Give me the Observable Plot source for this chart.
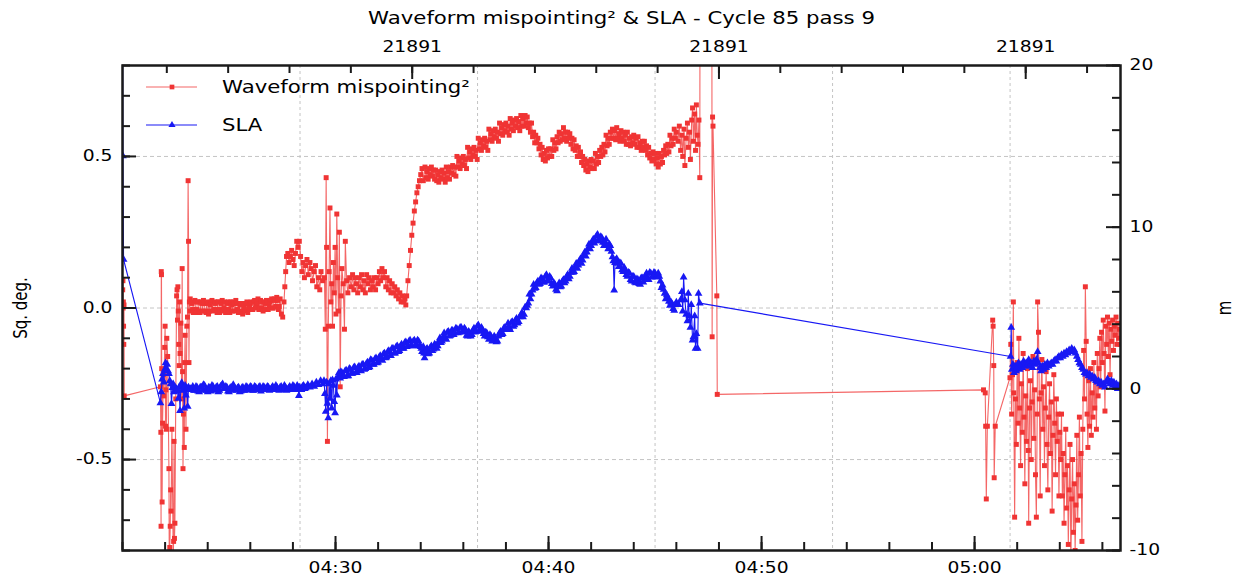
<!DOCTYPE html>
<html><head><meta charset="utf-8">
<script src="https://cdn.jsdelivr.net/npm/d3@7"></script>
<script src="https://cdn.jsdelivr.net/npm/@observablehq/plot@0.6"></script>
<style>body{margin:0;background:#fff;}</style>
</head><body><div id="chart"></div>
<script>
// ---------- texts ----------
const title = "Waveform mispointing\u00B2 & SLA - Cycle 85 pass 9";
const seriesNames = ["Waveform mispointing\u00B2", "SLA"];
const leftLabel = "Sq. deg.";
const rightLabel = "m";
// ---------- axes ----------
const passStart = "2009-12-08T04:20:00Z";   // x domain start
const passLengthMin = 46.85;                 // x domain length, minutes
const bottomTickLabels = ["04:30", "04:40", "04:50", "05:00"];
const topTickDays = [21891.19, 21891.20, 21891.21]; // days since 1950-01-01
const leftTicks = [-0.5, 0, 0.5];
const rightTicks = [-10, 0, 10, 20];
const leftDomain = [-0.8, 0.8];
const rightDomain = [-10, 20];
// ---------- data: [minutes after 04:20:00, value] ----------
const mispointing = [
[0.01,0.06],[0.02,0.09],[0.03,0.00],[0.04,0.02],[0.05,-0.06],[0.06,-0.12],[0.07,0.01],[0.08,-0.29],
[1.78,-0.26],[1.80,-0.41],[1.81,-0.72],[1.82,0.12],[1.83,0.11],[1.84,-0.20],[1.86,-0.64],[1.88,-0.38],[1.92,-0.22],[1.94,-0.29],[1.98,-0.13],[2.00,-0.06],[2.02,-0.39],[2.04,-0.27],[2.06,-0.40],[2.08,-0.10],[2.12,-0.16],[2.18,-0.53],[2.20,-0.95],[2.22,-0.79],[2.24,-0.72],[2.26,-0.60],[2.28,-0.67],[2.32,-0.40],[2.38,-0.82],[2.40,-0.77],[2.42,-0.44],[2.44,-0.76],[2.46,-0.71],[2.50,-0.30],[2.54,0.04],[2.56,0.06],[2.58,-0.04],[2.60,0.07],[2.62,-0.01],[2.64,-0.12],[2.66,-0.19],[2.68,0.02],[2.70,-0.15],[2.74,-0.05],[2.78,-0.30],[2.80,0.13],[2.82,-0.21],[2.84,-0.53],[2.86,-0.35],[2.88,-0.27],[2.90,-0.46],[2.92,-0.18],[2.94,-0.09],[2.98,-0.40],[3.02,-0.06],[3.05,-0.03],[3.08,0.42],[3.10,0.22],[3.12,-0.18],[3.14,0.02],[3.16,-0.01],[3.18,0.03],
[3.25,0.015],[3.32,-0.015],[3.40,0.025],[3.48,-0.005],[3.56,0.02],[3.64,-0.015],[3.72,0.015],[3.80,0.025],[3.88,-0.01],[3.96,0.015],[4.04,-0.02],[4.12,0.01],[4.20,0.025],[4.28,-0.005],[4.36,0.015],[4.44,-0.015],[4.52,0.02],[4.60,-0.005],[4.68,0.025],[4.76,0.0],[4.84,-0.015],[4.92,0.015],[5.00,-0.005],[5.08,0.02],[5.16,-0.01],[5.24,0.015],[5.32,0.025],[5.40,-0.005],[5.48,-0.015],[5.56,0.015],[5.64,-0.02],[5.72,0.005],[5.80,0.015],[5.88,-0.015],[5.96,0.01],[6.04,0.02],[6.12,-0.005],[6.20,0.025],[6.28,0.005],[6.36,0.03],[6.44,0.0],[6.52,0.02],[6.60,-0.01],[6.68,0.015],[6.76,0.025],[6.84,-0.005],[6.92,0.02],[7.00,0.03],[7.08,0.0],[7.16,0.025],[7.24,0.035],[7.32,-0.005],[7.40,0.03],[7.46,-0.02],[7.52,-0.03],
[3.29,-0.005],[3.36,0.02],[3.44,-0.015],[3.52,0.02],[3.60,-0.01],[3.68,0.02],[3.76,-0.01],[3.84,0.015],[3.92,-0.015],[4.00,0.02],[4.08,-0.01],[4.16,0.02],[4.24,-0.01],[4.32,0.02],[4.40,-0.005],[4.48,0.02],[4.56,-0.015],[4.64,0.015],[4.72,-0.01],[4.80,0.02],[4.88,-0.005],[4.96,0.02],[5.04,-0.015],[5.12,0.01],[5.20,0.02],[5.28,-0.01],[5.36,0.015],[5.44,-0.015],[5.52,0.01],[5.60,-0.01],[5.68,0.015],[5.76,-0.01],[5.84,0.02],[5.92,-0.005],[6.00,0.015],[6.08,-0.005],[6.16,0.02],[6.24,0.0],[6.32,0.015],[6.40,-0.005],[6.48,0.025],[6.56,0.0],[6.64,0.02],[6.72,-0.005],[6.80,0.02],[6.88,0.005],[6.96,0.025],[7.04,0.0],[7.12,0.03],[7.20,0.005],[7.28,0.025],[7.36,0.005],
[7.58,0.02],[7.62,0.07],[7.66,0.12],[7.70,0.17],[7.76,0.18],[7.82,0.15],[7.88,0.17],[7.94,0.19],[8.00,0.16],[8.06,0.14],[8.12,0.18],[8.18,0.22],[8.24,0.20],[8.30,0.22],[8.36,0.17],[8.42,0.12],[8.48,0.15],[8.54,0.10],[8.60,0.14],[8.66,0.16],[8.72,0.11],[8.80,0.15],[8.86,0.13],[8.92,0.09],[9.00,0.12],[9.06,0.14],[9.12,0.07],[9.20,0.10],[9.26,0.06],[9.32,0.12],[9.40,0.09],
[9.48,0.10],[9.52,-0.07],[9.56,0.43],[9.58,0.20],[9.62,-0.44],[9.66,-0.06],[9.70,0.12],[9.74,0.33],[9.78,0.02],[9.82,0.08],[9.86,-0.06],[9.90,0.15],[9.94,0.05],[9.98,0.20],[10.02,-0.02],[10.06,0.31],[10.10,0.10],[10.14,-0.01],[10.18,0.25],[10.22,-0.26],[10.26,0.04],[10.30,0.13],[10.36,0.08],[10.42,-0.07],[10.46,0.22],[10.52,0.09],[10.58,0.05],[10.66,0.10],
[10.74,0.07],[10.80,0.11],[10.86,0.06],[10.92,0.10],[10.98,0.08],[11.04,0.05],[11.10,0.10],[11.16,0.07],[11.22,0.11],[11.28,0.06],[11.34,0.09],[11.40,0.05],[11.46,0.11],[11.52,0.08],[11.58,0.10],[11.64,0.06],[11.70,0.09],[11.76,0.07],[11.82,0.10],[11.88,0.06],[11.94,0.10],[12.00,0.08],[12.06,0.12],[12.12,0.09],[12.18,0.13],[12.24,0.10],[12.30,0.12],[12.36,0.07],[12.42,0.10],[12.48,0.06],[12.54,0.09],[12.60,0.05],[12.66,0.08],[12.72,0.05],[12.78,0.07],[12.84,0.04],[12.90,0.06],[12.96,0.03],[13.02,0.05],[13.08,0.02],[13.14,0.04],[13.20,0.02],[13.26,0.03],[13.30,0.01],
[13.34,0.04],[13.40,0.09],[13.46,0.14],[13.52,0.19],[13.58,0.24],[13.64,0.28],[13.70,0.32],[13.76,0.35],[13.82,0.38],[13.88,0.40],[13.94,0.42],[14.00,0.44],[14.06,0.46],[14.12,0.42],
[14.20,0.465],[14.25,0.43],[14.30,0.45],[14.35,0.425],[14.40,0.46],[14.45,0.44],[14.50,0.465],[14.55,0.435],[14.60,0.455],[14.65,0.425],
[14.70,0.455],[14.75,0.42],[14.80,0.44],[14.85,0.415],[14.90,0.45],[14.95,0.43],[15.00,0.455],[15.05,0.425],[15.10,0.445],[15.15,0.415],
[15.20,0.465],[15.25,0.43],[15.30,0.45],[15.35,0.425],[15.40,0.465],[15.45,0.445],[15.50,0.47],[15.55,0.44],[15.60,0.465],[15.65,0.435],
[15.70,0.50],[15.75,0.465],[15.80,0.485],[15.85,0.46],[15.90,0.495],[15.95,0.475],[16.00,0.50],[16.05,0.47],[16.10,0.49],[16.15,0.46],
[16.20,0.53],[16.25,0.495],[16.30,0.515],[16.35,0.49],[16.40,0.525],[16.45,0.505],[16.50,0.53],[16.55,0.50],[16.60,0.52],[16.65,0.49],
[16.70,0.56],[16.75,0.525],[16.80,0.545],[16.85,0.52],[16.90,0.555],[16.95,0.535],[17.00,0.56],[17.05,0.53],[17.10,0.55],[17.15,0.52],
[17.20,0.59],[17.25,0.555],[17.30,0.575],[17.35,0.55],[17.40,0.585],[17.45,0.565],[17.50,0.59],[17.55,0.56],[17.60,0.58],[17.65,0.55],
[17.70,0.61],[17.75,0.575],[17.80,0.595],[17.85,0.57],[17.90,0.605],[17.95,0.585],[18.00,0.61],[18.05,0.58],[18.10,0.60],[18.15,0.57],
[18.20,0.625],[18.25,0.59],[18.30,0.61],[18.35,0.585],[18.40,0.62],[18.45,0.60],[18.50,0.625],[18.55,0.595],[18.60,0.615],[18.65,0.585],
[18.70,0.635],[18.75,0.60],[18.80,0.625],[18.85,0.60],[18.90,0.635],[18.95,0.61],[19.00,0.63],[19.05,0.595],[19.10,0.61],[19.15,0.58],
[19.20,0.61],[19.25,0.565],[19.30,0.58],[19.35,0.545],[19.40,0.57],[19.45,0.545],[19.50,0.56],[19.55,0.525],[19.60,0.54],[19.65,0.505],
[19.70,0.53],[19.75,0.49],[19.80,0.51],[19.85,0.485],[19.90,0.52],[19.95,0.495],[20.00,0.525],[20.05,0.50],[20.10,0.525],[20.15,0.50],
[20.20,0.555],[20.25,0.52],[20.30,0.545],[20.35,0.525],[20.40,0.565],[20.45,0.545],[20.50,0.58],[20.55,0.55],[20.60,0.575],[20.65,0.555],
[20.70,0.595],[20.75,0.56],[20.80,0.58],[20.85,0.55],[20.90,0.58],[20.95,0.56],[21.00,0.575],[21.05,0.54],[21.10,0.56],[21.15,0.525],
[21.20,0.555],[21.25,0.52],[21.30,0.535],[21.35,0.50],[21.40,0.53],[21.45,0.50],[21.50,0.515],[21.55,0.48],[21.60,0.50],[21.65,0.47],
[21.70,0.49],[21.75,0.455],[21.80,0.475],[21.85,0.45],[21.90,0.485],[21.95,0.465],[22.00,0.49],[22.05,0.46],[22.10,0.485],[22.15,0.46],
[22.20,0.51],[22.25,0.475],[22.30,0.50],[22.35,0.48],[22.40,0.52],[22.45,0.50],[22.50,0.53],[22.55,0.505],[22.60,0.54],[22.65,0.515],
[22.70,0.57],[22.75,0.535],[22.80,0.56],[22.85,0.54],[22.90,0.58],[22.95,0.56],[23.00,0.59],[23.05,0.56],[23.10,0.585],[23.15,0.555],
[23.20,0.595],[23.25,0.56],[23.30,0.575],[23.35,0.55],[23.40,0.585],[23.45,0.56],[23.50,0.58],[23.55,0.55],[23.60,0.57],[23.65,0.54],
[23.70,0.58],[23.75,0.54],[23.80,0.56],[23.85,0.535],[23.90,0.565],[23.95,0.545],[24.00,0.57],[24.05,0.54],[24.10,0.56],[24.15,0.53],
[24.20,0.565],[24.25,0.53],[24.30,0.545],[24.35,0.52],[24.40,0.55],[24.45,0.53],[24.50,0.55],[24.55,0.52],[24.60,0.535],[24.65,0.505],
[24.70,0.53],[24.75,0.495],[24.80,0.51],[24.85,0.485],[24.90,0.515],[24.95,0.49],[25.00,0.51],[25.05,0.475],[25.10,0.495],[25.15,0.465],
[25.20,0.51],[25.25,0.475],[25.30,0.50],[25.35,0.48],[25.40,0.52],[25.45,0.505],[25.50,0.535],[25.55,0.51],[25.60,0.54],[25.65,0.515],
[25.70,0.57],[25.75,0.535],[25.80,0.56],[25.85,0.54],[25.90,0.59],[25.95,0.56],[26.00,0.58],
[26.08,0.55],[26.14,0.60],[26.20,0.52],[26.26,0.57],[26.30,0.50],[26.36,0.59],[26.40,0.47],[26.46,0.56],[26.52,0.61],[26.56,0.53],[26.62,0.58],[26.66,0.49],[26.72,0.62],[26.76,0.66],[26.80,0.55],[26.86,0.64],[26.90,0.52],[26.94,0.67],[26.98,0.57],[27.02,0.54],[27.06,0.62],[27.10,0.43],
[27.12,1.60],[27.66,1.60],[27.68,-0.095],[27.70,0.63],[27.72,0.60],[27.90,0.04],[27.92,-0.285],
[40.42,-0.27],[40.50,-0.28],[40.52,-0.39],[40.55,-0.63],[40.60,-0.39],[40.85,-0.04],[40.87,-0.06],[40.90,-0.19],[40.92,-0.56],[40.97,-0.39],[41.66,-0.23],
[41.70,-0.12],[41.74,-0.35],[41.78,-0.22],[41.82,0.02],[41.84,-0.28],[41.88,-0.69],[41.92,-0.30],[41.96,-0.45],[42.00,-0.18],[42.04,-0.38],[42.08,-0.10],[42.12,-0.33],[42.16,-0.52],[42.20,-0.25],[42.24,-0.41],[42.28,-0.15],[42.32,-0.36],[42.36,-0.58],[42.40,-0.29],[42.44,-0.44],[42.48,-0.20],[42.52,-0.47],[42.54,-0.71],[42.58,-0.33],[42.62,-0.24],[42.66,-0.50],[42.70,-0.31],[42.74,-0.16],[42.78,-0.43],[42.82,-0.27],[42.86,-0.55],[42.90,-0.69],[42.94,-0.35],[42.96,0.02],[43.00,-0.08],[43.04,-0.30],[43.08,-0.62],
[43.12,-0.28],[43.16,-0.17],[43.20,-0.40],[43.24,-0.26],[43.28,-0.52],[43.32,-0.33],[43.36,-0.21],[43.40,-0.45],[43.44,-0.60],[43.48,-0.36],[43.52,-0.25],[43.56,-0.48],[43.60,-0.31],[43.64,-0.67],[43.68,-0.42],[43.72,-0.22],[43.76,-0.38],[43.80,-0.55],[43.84,-0.30],[43.88,-0.44],[43.92,-0.35],[43.96,-0.62],[44.00,-0.41],
[44.04,-0.50],[44.08,-0.35],[44.12,-0.62],[44.16,-0.48],[44.20,-0.71],[44.24,-0.55],[44.28,-0.40],[44.32,-0.66],[44.36,-0.52],[44.40,-0.78],[44.44,-0.60],[44.48,-0.45],[44.52,-0.85],[44.56,-0.63],[44.60,-0.50],[44.64,-0.74],[44.68,-0.58],[44.72,-0.80],[44.76,-0.65],[44.80,-0.42],[44.84,-0.70],[44.88,-0.55],[44.92,-0.36],[44.96,-0.62],[45.00,-0.48],[45.04,-0.77],[45.08,-0.40],
[45.12,-0.14],[45.16,-0.30],[45.20,0.07],[45.24,-0.11],[45.28,-0.35],[45.32,-0.46],[45.36,-0.24],[45.40,-0.39],[45.44,-0.20],
[45.48,-0.42],[45.52,-0.28],[45.56,-0.36],[45.60,-0.18],[45.64,-0.33],[45.68,-0.24],[45.72,-0.40],[45.76,-0.15],[45.80,-0.29],[45.84,-0.20],[45.88,-0.10],[45.92,-0.26],[45.96,-0.08],[46.00,-0.18],[46.04,-0.04],[46.08,-0.15],[46.12,-0.34],[46.16,-0.06],[46.20,-0.12],[46.24,-0.03],[46.28,-0.16],[46.32,-0.05],[46.36,-0.22],[46.40,-0.07],[46.44,-0.11],[46.48,-0.04],[46.52,-0.14],[46.56,-0.06],[46.60,-0.09],[46.64,-0.03],[46.68,-0.12],[46.72,-0.05],[46.76,-0.10],[46.80,-0.07],[46.84,-0.12]
];
const sla = [
[0.00,24],[0.02,14.4],[0.05,8.0],
[1.78,-0.87],[1.82,-0.2],[1.86,0.6],[1.90,0.93],[1.94,0.4],[1.98,1.2],[2.02,1.6],[2.06,1.2],[2.10,1.5],[2.14,1.1],[2.18,0.93],[2.22,0.5],[2.26,0.3],[2.30,-0.93],[2.34,0.06],[2.38,0.3],[2.42,-0.2],[2.46,0.1],[2.50,-0.1],[2.54,0.0],[2.58,-0.12],[2.62,-0.6],[2.66,0.1],[2.70,-1.36],[2.74,0.2],[2.78,0.37],[2.82,-0.1],[2.86,0.1],[2.90,-1.2],[2.94,0.2],[2.98,-0.4],[3.02,0.05],[3.06,-1.1],[3.10,0.1],[3.14,-0.05],[3.20,0.0],
[3.30,0.15],[3.40,-0.1],[3.50,0.1],[3.60,-0.2],[3.70,0.1],[3.80,0.25],[3.90,-0.05],[4.00,-0.2],[4.10,0.05],[4.20,0.2],[4.30,-0.05],[4.40,0.1],[4.50,-0.2],[4.60,0.15],[4.70,0.3],[4.80,0.0],[4.90,0.1],[5.00,-0.2],[5.10,0.1],[5.20,0.25],[5.30,-0.05],[5.40,0.05],[5.50,-0.2],[5.60,0.05],[5.70,-0.1],[5.80,0.15],[5.90,0.0],[6.00,0.15],[6.10,-0.1],[6.20,0.15],[6.30,0.0],[6.40,0.1],[6.50,-0.15],[6.60,0.15],[6.70,0.0],[6.80,0.15],[6.90,-0.1],[7.00,0.05],[7.10,-0.05],[7.20,0.2],[7.30,-0.05],[7.40,0.1],[7.50,-0.05],[7.60,0.2],[7.70,-0.1],[7.80,0.05],[7.90,-0.05],[8.00,0.2],[8.10,-0.05],[8.20,0.2],[8.28,-0.43],[8.32,0.1],[8.40,-0.05],[8.50,0.2],[8.60,0.05],
[3.35,-0.1],[3.45,0.15],[3.55,-0.15],[3.65,0.1],[3.75,-0.1],[3.85,0.2],[3.95,-0.1],[4.05,0.1],[4.15,-0.15],[4.25,0.15],[4.35,-0.1],[4.45,0.15],[4.55,-0.1],[4.65,0.2],[4.75,0.0],[4.85,0.15],[4.95,-0.15],[5.05,0.05],[5.15,-0.1],[5.25,0.1],[5.35,-0.1],[5.45,0.1],[5.55,-0.15],[5.65,0.1],[5.75,-0.1],[5.85,0.1],[5.95,-0.05],[6.05,0.1],[6.15,-0.1],[6.25,0.1],[6.35,-0.05],[6.45,0.15],[6.55,-0.05],[6.65,0.1],[6.75,-0.05],[6.85,0.1],[6.95,-0.05],[7.05,0.15],[7.15,-0.05],[7.25,0.1],[7.35,-0.1],[7.45,0.15],[7.55,-0.05],[7.65,0.1],[7.75,-0.05],[7.85,0.15],[7.95,-0.05],[8.05,0.15],[8.15,-0.05],[8.24,0.1],[8.36,-0.05],[8.45,0.15],[8.55,0.0],
[8.70,0.25],[8.80,0.1],[8.90,0.3],[9.00,0.15],[9.10,0.4],[9.20,0.25],[9.30,0.5],[9.40,0.3],[9.46,0.5],[9.50,-0.3],[9.54,-1.4],[9.58,0.4],[9.62,-0.9],[9.66,-1.8],[9.70,0.3],[9.74,-0.6],[9.78,0.5],[9.82,-1.2],[9.86,0.55],[9.90,0.2],[9.94,-0.8],[9.98,-1.5],[10.02,0.6],[10.06,-0.4],
[10.10,0.7],[10.16,1.0],[10.22,0.65],[10.30,1.0],[10.40,0.75],[10.50,1.15],[10.60,0.8],[10.70,1.2],[10.80,0.95],[10.90,1.35],[11.00,1.0],[11.10,1.4],[11.20,1.1],[11.30,1.5],[11.40,1.25],[11.50,1.65],[11.60,1.35],[11.70,1.75],[11.80,1.5],[11.90,1.9],[12.00,1.65],[12.10,2.05],[12.20,1.75],[12.30,2.2],[12.40,1.95],[12.50,2.35],[12.60,2.05],[12.70,2.5],[12.80,2.2],[12.90,2.65],[13.00,2.35],[13.10,2.75],[13.20,2.5],[13.30,2.9],[13.40,2.65],[13.50,3.0],[13.60,2.65],[13.70,3.0],[13.80,2.75],[13.90,2.95],[14.00,2.6],[14.06,2.3],[14.12,2.6],[14.18,1.9],[14.24,2.2],[14.30,2.5],[14.40,2.2],[14.50,2.65],[14.60,2.45],[14.70,2.7],[14.80,2.65],[14.90,3.15],[15.00,2.95],[15.10,3.45],[15.20,3.05],[15.30,3.55],[15.40,3.3],[15.50,3.6],[15.60,3.45],[15.70,3.7],[15.80,3.5],[15.90,3.8],[16.00,3.55],[16.10,3.65],[16.20,3.25],[16.30,3.45],[16.40,3.35],[16.50,3.75],[16.60,3.55],[16.70,3.95],[16.80,3.55],[16.90,3.65],[17.00,3.25],[17.10,3.45],[17.20,3.05],[17.30,3.25],[17.40,3.05],[17.50,3.15],[17.60,2.95],[17.70,3.45],[17.80,3.35],[17.90,3.75],[18.00,3.65],[18.10,4.05],[18.20,3.65],[18.30,4.15],[18.40,3.95],[18.50,4.35],[18.60,4.15],[18.70,4.55],[18.80,4.45],[18.90,5.05],[19.00,5.15],[19.10,5.85],[19.20,5.85],[19.30,6.45],[19.40,6.25],[19.50,6.65],[19.60,6.5],[19.70,6.8],[19.80,6.6],[19.90,7.05],[20.00,6.65],[20.10,6.85],[20.20,6.35],[20.30,6.45],[20.40,6.05],[20.50,6.55],[20.60,6.35],[20.70,6.75],[20.80,6.65],[20.90,7.05],[21.00,6.95],[21.10,7.45],[21.20,7.25],[21.30,7.75],[21.40,7.65],[21.50,8.05],[21.60,7.95],[21.70,8.45],[21.80,8.45],[21.90,8.95],[22.00,8.85],[22.10,9.25],[22.20,9.15],[22.30,9.55],[22.40,9.15],[22.50,9.35],[22.60,8.85],[22.70,9.25],[22.80,8.65],[22.90,8.85],[23.00,8.15],[23.04,7.9],[23.08,6.1],[23.12,7.8],[23.20,8.05],[23.30,7.55],[23.40,7.75],[23.50,7.25],[23.60,7.35],[23.70,6.95],[23.80,7.15],[23.90,6.65],[24.00,6.95],[24.10,6.55],[24.20,6.75],[24.30,6.45],[24.40,6.85],[24.50,6.75],[24.60,7.15],[24.70,6.75],[24.80,7.15],[24.90,6.95],[25.00,7.15],[25.10,6.95],[25.20,6.95],[25.30,6.25],[25.40,6.15],[25.50,5.55],[25.60,5.65],[25.70,5.15],[25.80,5.25],[25.90,4.85],[26.00,5.35],[26.10,5.2],[26.20,5.5],[26.26,6.0],[26.30,4.8],[26.34,6.9],[26.40,5.5],[26.46,4.6],[26.52,4.2],[26.56,5.9],[26.60,4.5],[26.66,3.8],[26.70,5.2],[26.76,3.0],[26.80,3.2],[26.86,4.5],[26.90,2.5],[26.94,3.4],[27.00,2.5],[27.04,5.9],[27.10,5.3],
[10.15,0.7],[10.25,1.05],[10.35,0.8],[10.45,1.1],[10.55,0.8],[10.65,1.25],[10.75,0.95],[10.85,1.3],[10.95,1.0],[11.05,1.3],[11.15,1.15],[11.25,1.5],[11.35,1.2],[11.45,1.55],[11.55,1.3],[11.65,1.8],[11.75,1.5],[11.85,1.85],[11.95,1.6],[12.05,1.95],[12.15,1.85],[12.25,2.15],[12.35,1.9],[12.45,2.3],[12.55,2.05],[12.65,2.5],[12.75,2.2],[12.85,2.6],[12.95,2.3],[13.05,2.65],[13.15,2.5],[13.25,2.85],[13.35,2.6],[13.45,2.95],[13.55,2.7],[13.65,2.95],[13.75,2.65],[13.85,3.0],[13.95,2.65],[14.03,2.5],[14.15,2.2],[14.27,2.45],[14.35,2.15],[14.45,2.55],[14.55,2.35],[14.65,2.75],[14.75,2.5],[14.85,2.95],[14.95,2.85],[15.05,3.2],[15.15,3.15],[15.25,3.5],[15.35,3.25],[15.45,3.6],[15.55,3.35],[15.65,3.75],[15.75,3.45],[15.85,3.8],[15.95,3.5],[16.05,3.75],[16.15,3.3],[16.25,3.55],[16.35,3.25],[16.45,3.6],[16.55,3.5],[16.65,3.85],[16.75,3.6],[16.85,3.8],[16.95,3.4],[17.05,3.5],[17.15,3.2],[17.25,3.35],[17.35,2.95],[17.45,3.25],[17.55,2.9],[17.65,3.25],[17.75,3.55],[17.85,3.4],[17.95,3.8],[18.05,3.7],[18.15,3.8],[18.25,4.1],[18.35,3.85],[18.45,4.25],[18.55,4.05],[18.65,4.45],[18.75,4.7],[18.85,4.6],[18.95,5.0],[19.05,5.3],[19.15,5.55],[19.25,6.1],[19.35,6.2],[19.45,6.55],[19.55,6.45],[19.65,6.85],[19.75,6.6],[19.85,6.95],[19.95,6.7],[20.05,6.95],[20.15,6.5],[20.25,6.55],[20.35,6.15],[20.45,6.35],[20.55,6.3],[20.65,6.65],[20.75,6.55],[20.85,6.95],[20.95,6.8],[21.05,7.2],[21.15,7.2],[21.25,7.55],[21.35,7.45],[21.45,7.9],[21.55,7.75],[21.65,8.3],[21.75,8.2],[21.85,8.7],[21.95,8.65],[22.05,9.1],[22.15,9.0],[22.25,9.45],[22.35,9.2],[22.45,9.4],[22.55,9.05],[22.65,9.05],[22.75,8.85],[22.85,8.95],[22.95,8.5],[23.15,7.95],[23.25,7.75],[23.35,7.8],[23.45,7.35],[23.55,7.5],[23.65,7.05],[23.75,7.2],[23.85,6.75],[23.95,6.95],[24.05,6.6],[24.15,6.8],[24.25,6.5],[24.35,6.85],[24.45,6.6],[24.55,7.0],[24.65,6.85],[24.75,7.2],[24.85,6.9],[24.95,7.2],[25.05,6.9],[25.15,7.15],[25.25,6.65],[25.35,6.4],[25.45,5.9],[25.55,5.8],[25.65,5.4],[25.75,5.35],[25.85,4.95],[25.95,5.2],
[41.69,2.0],[41.72,3.8],[41.75,1.2],[41.80,1.5],[41.85,1.0],[41.90,1.4],[41.95,1.1],[42.00,1.3],[42.06,1.6],[42.12,1.2],[42.18,1.5],[42.24,1.3],[42.30,1.7],[42.36,1.4],[42.42,1.6],[42.48,1.5],[42.54,1.8],[42.60,1.4],[42.66,1.6],[42.72,1.3],[42.78,1.7],[42.84,1.5],[42.90,1.8],[42.96,2.3],[43.00,1.6],[43.06,1.3],[43.12,1.1],[43.18,1.4],[43.24,1.2],[43.30,1.5],[43.36,1.3],[43.42,1.6],[43.48,1.4],[43.54,1.5],[43.60,1.6],[43.66,1.5],[43.72,1.7],[43.78,1.8],[43.84,1.7],[43.90,1.9],[43.96,2.0],[44.02,1.9],[44.08,2.1],[44.14,2.0],[44.20,2.2],[44.26,2.1],[44.32,2.3],[44.38,2.2],[44.44,2.4],[44.50,2.3],[44.56,2.5],[44.62,2.3],[44.68,2.4],[44.74,2.2],[44.80,2.0],[44.86,1.8],[44.92,1.6],[44.98,1.5],[45.04,1.3],[45.10,1.2],[45.16,1.0],[45.22,0.9],[45.28,1.0],[45.34,0.8],[45.40,0.9],[45.46,0.7],[45.52,0.8],[45.58,0.6],[45.64,0.7],[45.70,0.5],[45.76,0.4],[45.82,0.5],[45.88,0.3],[45.94,0.4],[46.00,0.2],[46.06,0.3],[46.12,0.1],[46.18,0.4],[46.24,0.6],[46.30,0.5],[46.36,0.3],[46.42,0.5],[46.48,0.2],[46.54,0.4],[46.60,0.1],[46.66,0.3],[46.72,0.0],[46.78,0.2],[46.84,0.1]
];

// ---------- build ----------
const W = 1243, H = 581, mL = 122, mR = 123, mT = 65, mB = 31;
const fw = W - mL - mR, fh = H - mT - mB;
const t0 = Date.parse(passStart);
const toDate = m => new Date(t0 + m * 60000);
const epoch = Date.UTC(1950, 0, 1);
const dayToDate = d => new Date(epoch + d * 86400000);
const dateToDay = dt => (dt - epoch) / 86400000;
const xDomain = [toDate(0), toDate(passLengthMin)];
const r2l = d3.scaleLinear(rightDomain, leftDomain);

const mispData = d3.sort(mispointing, d => d[0]).map(([t, v]) => ({date: toDate(t), v}));
const slaData = d3.sort(sla, d => d[0]).map(([t, m]) => ({date: toDate(t), v: r2l(m)}));

const dayStr = passStart.slice(0, 11);
const bottomDates = bottomTickLabels.map(s => new Date(dayStr + s + ":00Z"));
const bottomMinor = d3.utcMinute.every(2).range(xDomain[0], xDomain[1]);
const topDates = topTickDays.map(dayToDate);
const topMinor = d3.range(0, 30).map(i => dayToDate(21891.18 + i * 0.002)).filter(d => d > xDomain[0] && d < xDomain[1]);
const leftMinor = d3.range(-8, 9).map(i => i / 10);
const rightMinor = d3.range(rightDomain[0], rightDomain[1] + 1, 2).map(r2l);
const gridX = d3.range(1, 6).map(k => toDate(k * 500 / 60));

const RED = "#f03434", BLUE = "#1818f4", AX = "#1a1a1a";
const FONT = "DejaVu Sans";

const chart = Plot.plot({
  width: W, height: H,
  marginLeft: mL, marginRight: mR, marginTop: mT, marginBottom: mB,
  x: {type: "utc", domain: xDomain, axis: null},
  y: {domain: leftDomain, axis: null},
  style: {fontFamily: FONT, fontSize: "15px", color: "#000", background: "#fff", overflow: "visible"},
  marks: [
    Plot.ruleY(leftTicks, {y: d => d, stroke: "#c4c4c4", strokeDasharray: "4,3", strokeWidth: 1}),
    Plot.ruleX(gridX, {x: d => d, stroke: "#c4c4c4", strokeDasharray: "3,3", strokeWidth: 1}),
    Plot.line(mispData, {x: "date", y: "v", stroke: RED, strokeOpacity: 0.75, strokeWidth: 1.1, clip: true}),
    Plot.dot(mispData, {x: "date", y: "v", symbol: "square", r: 2.8, fill: RED, stroke: "none", clip: true}),
    Plot.line(slaData, {x: "date", y: "v", stroke: BLUE, strokeWidth: 1.1, clip: true}),
    Plot.dot(slaData, {x: "date", y: "v", symbol: "triangle", r: 2.9, fill: BLUE, stroke: "none", clip: true}),
    // inward ticks
    Plot.tickY(leftTicks, {y: d => d, insetRight: fw - 14, stroke: AX, strokeWidth: 2}),
    Plot.tickY(leftMinor, {y: d => d, insetRight: fw - 8, stroke: AX, strokeWidth: 2}),
    Plot.tickY(rightTicks.map(r2l), {y: d => d, insetLeft: fw - 14, stroke: AX, strokeWidth: 2}),
    Plot.tickY(rightMinor, {y: d => d, insetLeft: fw - 8, stroke: AX, strokeWidth: 2}),
    Plot.tickX(bottomDates, {x: d => d, insetTop: fh - 14, stroke: AX, strokeWidth: 2}),
    Plot.tickX(bottomMinor, {x: d => d, insetTop: fh - 8, stroke: AX, strokeWidth: 2}),
    Plot.tickX(topDates, {x: d => d, insetBottom: fh - 14, stroke: AX, strokeWidth: 2}),
    Plot.tickX(topMinor, {x: d => d, insetBottom: fh - 8, stroke: AX, strokeWidth: 2}),
    Plot.frame({stroke: AX, strokeWidth: 2.5}),
    // tick labels
    Plot.text(leftTicks, {y: d => d, text: d => d.toFixed(1), frameAnchor: "left", dx: -10, textAnchor: "end", lineAnchor: "middle", fontSize: 15}),
    Plot.text(rightTicks, {y: d => r2l(d), text: d => String(d), frameAnchor: "right", dx: 9, textAnchor: "start", lineAnchor: "middle", fontSize: 15}),
    Plot.text(bottomDates, {x: d => d, text: d => d3.utcFormat("%H:%M")(d), frameAnchor: "bottom", dy: 18, textAnchor: "middle", lineAnchor: "middle", fontSize: 15}),
    Plot.text(topDates, {x: d => d, text: d => String(Math.floor(dateToDay(d) + 1e-9)), frameAnchor: "top", dy: -18, textAnchor: "middle", lineAnchor: "middle", fontSize: 15}),
    // axis titles & title
    Plot.text([leftLabel], {text: d => d, frameAnchor: "left", dx: -102, rotate: -90, textAnchor: "middle", lineAnchor: "middle", fontSize: 15}),
    Plot.text([rightLabel], {text: d => d, frameAnchor: "right", dx: 104, rotate: -90, textAnchor: "middle", lineAnchor: "middle", fontSize: 15}),
    Plot.text([title], {text: d => d, frameAnchor: "top", dy: -47, textAnchor: "middle", lineAnchor: "middle", fontSize: 17})
  ]
});

// legend (inside the frame, top-left)
const svg = d3.select(chart);
const lg = svg.append("g").attr("font-family", FONT).attr("font-size", 17).attr("text-anchor", "start");
const items = [
  {name: seriesNames[0], color: RED, sym: d3.symbolSquare, y: 87, op: 0.75},
  {name: seriesNames[1], color: BLUE, sym: d3.symbolTriangle, y: 125, op: 1}
];
items.forEach(it => {
  lg.append("line").attr("x1", 146).attr("x2", 197).attr("y1", it.y).attr("y2", it.y)
    .attr("stroke", it.color).attr("stroke-opacity", it.op).attr("stroke-width", 1.1);
  lg.append("path").attr("d", d3.symbol(it.sym, 22)()).attr("transform", `translate(172,${it.y})`).attr("fill", it.color);
  lg.append("text").attr("transform", `translate(222,${it.y})`).attr("dy", "0.35em").attr("text-anchor", "start").attr("fill", "#000").text(it.name);
});

// horizontally widen all text (reference lettering is wide)
const K = 1.25;
chart.querySelectorAll("text").forEach(t => {
  const tr = t.getAttribute("transform");
  if (tr) {
    const rotated = /rotate\(\s*-?90/.test(tr);
    t.setAttribute("transform", tr + (rotated ? ` scale(1,${K})` : ` scale(${K},1)`));
  } else {
    const x = +(t.getAttribute("x") || 0), y = +(t.getAttribute("y") || 0);
    t.removeAttribute("x"); t.removeAttribute("y");
    t.setAttribute("transform", `translate(${x},${y}) scale(${K},1)`);
  }
});

document.getElementById("chart").appendChild(chart);
</script>
</body></html>
